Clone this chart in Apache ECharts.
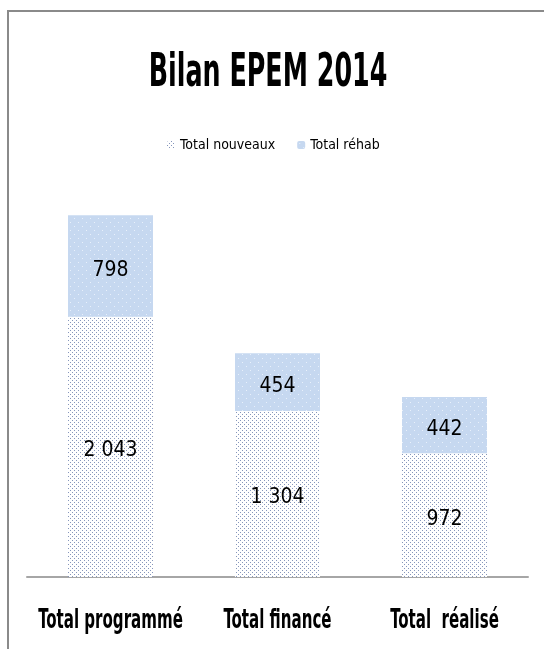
<!DOCTYPE html>
<html>
<head>
<meta charset="utf-8">
<script src="https://cdn.jsdelivr.net/npm/echarts@6/dist/echarts.min.js"></script>
<style>
  html, body { margin: 0; padding: 0; background: #fff; }
  #chart { width: 544px; height: 649px; }
</style>
</head>
<body>
<div id="chart"></div>
<script>
const categories = ['Total programmé', 'Total financé', 'Total  réalisé']
const nouveaux = [2043, 1304, 972]
const rehab = [798, 454, 442]

const font = '"DejaVu Sans Condensed", "Liberation Sans Narrow", sans-serif'

// dotted fill for "Total nouveaux"
function dotPattern() {
  const c = document.createElement('canvas')
  c.width = 4
  c.height = 4
  const ctx = c.getContext('2d')
  ctx.fillStyle = '#ffffff'
  ctx.fillRect(0, 0, 4, 4)
  ctx.fillStyle = '#8696bb'
  ctx.fillRect(0, 0, 1, 1)
  ctx.fillRect(2, 2, 1, 1)
  return c
}

// light blue with sparse white dots for "Total réhab"
function rehabPattern() {
  const c = document.createElement('canvas')
  c.width = 8
  c.height = 8
  const ctx = c.getContext('2d')
  ctx.fillStyle = '#c6d8f0'
  ctx.fillRect(0, 0, 8, 8)
  ctx.fillStyle = '#e8f0fb'
  ctx.fillRect(2, 2, 1, 1)
  ctx.fillRect(6, 6, 1, 1)
  return c
}

function fmt(v) {
  return String(v).replace(/\B(?=(\d{3})+(?!\d))/g, ' ')
}

const chart = echarts.init(document.getElementById('chart'))
chart.setOption({
  animation: false,
  legend: {
    top: 133,
    left: 162,
    itemWidth: 8,
    itemHeight: 8,
    itemGap: 22,
    textStyle: { fontFamily: font, fontSize: 14, color: '#000' },
    data: ['Total nouveaux', 'Total réhab']
  },
  grid: {
    left: 27,
    right: 16,
    top: 195,
    bottom: 72
  },
  xAxis: {
    type: 'category',
    data: categories,
    axisLine: { lineStyle: { color: '#a6a6a6', width: 2 } },
    axisTick: { show: false },
    axisLabel: { show: false }
  },
  yAxis: {
    type: 'value',
    min: 0,
    max: 3000,
    show: false,
    splitLine: { show: false }
  },
  series: [
    {
      name: 'Total nouveaux',
      type: 'bar',
      stack: 'total',
      barWidth: 85,
      data: nouveaux,
      itemStyle: { color: { image: dotPattern(), repeat: 'repeat' } },
      label: {
        show: true,
        position: 'inside',
        offset: [0, 4],
        fontFamily: font,
        fontSize: 21,
        color: '#000',
        formatter: p => fmt(p.value)
      }
    },
    {
      name: 'Total réhab',
      type: 'bar',
      stack: 'total',
      barWidth: 85,
      data: rehab,
      itemStyle: { color: { image: rehabPattern(), repeat: 'repeat' } },
      label: {
        show: true,
        position: 'inside',
        offset: [0, 4],
        fontFamily: font,
        fontSize: 21,
        color: '#000',
        formatter: p => fmt(p.value)
      }
    }
  ]
})

// narrow title and category labels, placed from the category axis
const graphics = [
  {
    type: 'polyline',
    shape: { points: [[8, 649], [8, 11], [544, 11]] },
    style: { stroke: '#8a8a8a', lineWidth: 2, fill: null }
  },
  {
    type: 'text',
    x: 268,
    y: 74,
    scaleX: 0.6,
    style: {
      text: 'Bilan EPEM 2014',
      font: 'bold 47px ' + font,
      fill: '#000',
      textAlign: 'center',
      textVerticalAlign: 'middle'
    }
  }
]
categories.forEach((c, i) => {
  const x = chart.convertToPixel({ xAxisIndex: 0 }, i)
  graphics.push({
    type: 'text',
    x: x,
    y: 621,
    scaleX: 0.62,
    style: {
      text: c,
      font: 'bold 27px ' + font,
      fill: '#000',
      textAlign: 'center',
      textVerticalAlign: 'middle'
    }
  })
})
chart.setOption({ graphic: graphics })
</script>
</body>
</html>
